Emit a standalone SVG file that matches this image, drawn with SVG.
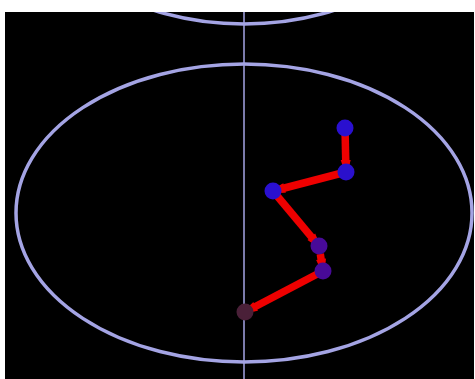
<svg xmlns="http://www.w3.org/2000/svg" width="475" height="379" viewBox="0 0 475 379">
<defs>
<style>
.ring{fill:none;stroke:#a4a4e4;stroke-width:3.5}
.axis{stroke:#a4a4e4;stroke-width:1.5}
.bond{stroke:#ee0000;stroke-width:7.5;marker-end:url(#tip)}
.atom{stroke:none}
</style>
<marker id="tip" markerUnits="userSpaceOnUse" markerWidth="14" markerHeight="14" refX="0" refY="0" viewBox="-7 -7 14 14" orient="auto">
<path d="M-4,-5 L1,-3.5 L1,3.5 L-4,5 Z" fill="#ee0000"/>
</marker>
<clipPath id="c"><rect x="5" y="12" width="469" height="367"/></clipPath>
</defs>
<rect x="0" y="0" width="475" height="379" fill="#ffffff"/>
<rect x="5" y="12" width="469" height="367" fill="#000000"/>
<g clip-path="url(#c)">
<ellipse class="ring" cx="244" cy="-125" rx="215" ry="149"/>
<ellipse class="ring" cx="244" cy="213" rx="228" ry="149"/>
<line class="axis" x1="244" y1="12" x2="244" y2="379"/>
</g>
<g id="connectors">
<line class="bond" x1="345" y1="128" x2="345.8" y2="164"/>
<line class="bond" x1="346" y1="172" x2="280.7" y2="189"/>
<line class="bond" x1="273" y1="191" x2="313.9" y2="239.9"/>
<line class="bond" x1="320.3" y1="253.9" x2="321.7" y2="263.1"/>
<line class="bond" x1="323" y1="271" x2="252.1" y2="308.3"/>
</g>
<g id="n1"><circle class="atom" cx="345" cy="128" r="8.5" fill="#2a10d0"/></g>
<g id="n2"><circle class="atom" cx="346" cy="172" r="8.5" fill="#2a10cc"/></g>
<g id="n3"><circle class="atom" cx="273" cy="191" r="8.5" fill="#2a10d0"/></g>
<g id="n4"><circle class="atom" cx="319" cy="246" r="8.5" fill="#480a98"/></g>
<g id="n5"><circle class="atom" cx="323" cy="271" r="8.5" fill="#480a98"/></g>
<g id="n6"><circle class="atom" cx="245" cy="312" r="8.5" fill="#4a2038"/></g>
</svg>
